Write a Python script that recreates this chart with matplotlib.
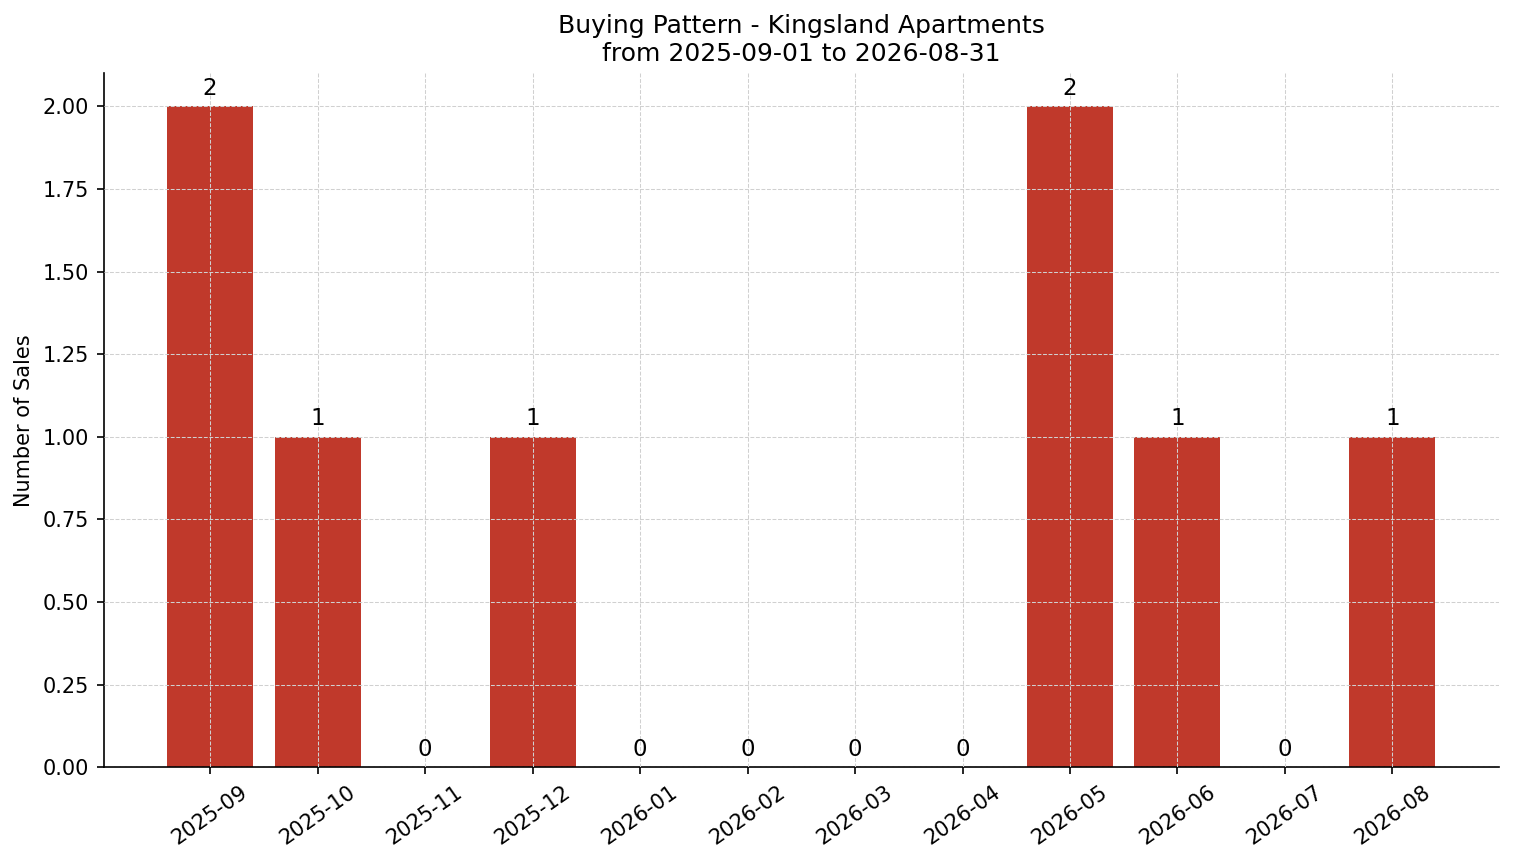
import matplotlib
matplotlib.use("Agg")
import matplotlib.pyplot as plt

months = ["2025-09", "2025-10", "2025-11", "2025-12", "2026-01", "2026-02",
          "2026-03", "2026-04", "2026-05", "2026-06", "2026-07", "2026-08"]
sales = [2, 1, 0, 1, 0, 0, 0, 0, 2, 1, 0, 1]

fig = plt.figure(figsize=(1514 / 150, 863 / 150), dpi=150)
ax = fig.add_axes([0.0685, 0.111, 0.9215, 0.804])

bars = ax.bar(months, sales, color="#C0392B", width=0.8)
for b, v in zip(bars, sales):
    ax.text(b.get_x() + b.get_width() / 2, v + 0.02, str(v),
            ha="center", va="bottom", fontsize=11)

ax.set_title("Buying Pattern - Kingsland Apartments\nfrom 2025-09-01 to 2026-08-31", fontsize=12)
ax.set_ylabel("Number of Sales", fontsize=10)
ax.set_ylim(0, 2.1)
ax.tick_params(axis="x", labelrotation=35, labelsize=10)
ax.tick_params(axis="y", labelsize=10)
ax.grid(True, linestyle="--", linewidth=0.5, color="#d0d0d0")
ax.set_axisbelow(False)
ax.spines["top"].set_visible(False)
ax.spines["right"].set_visible(False)

fig.savefig("out.png", dpi=150)
